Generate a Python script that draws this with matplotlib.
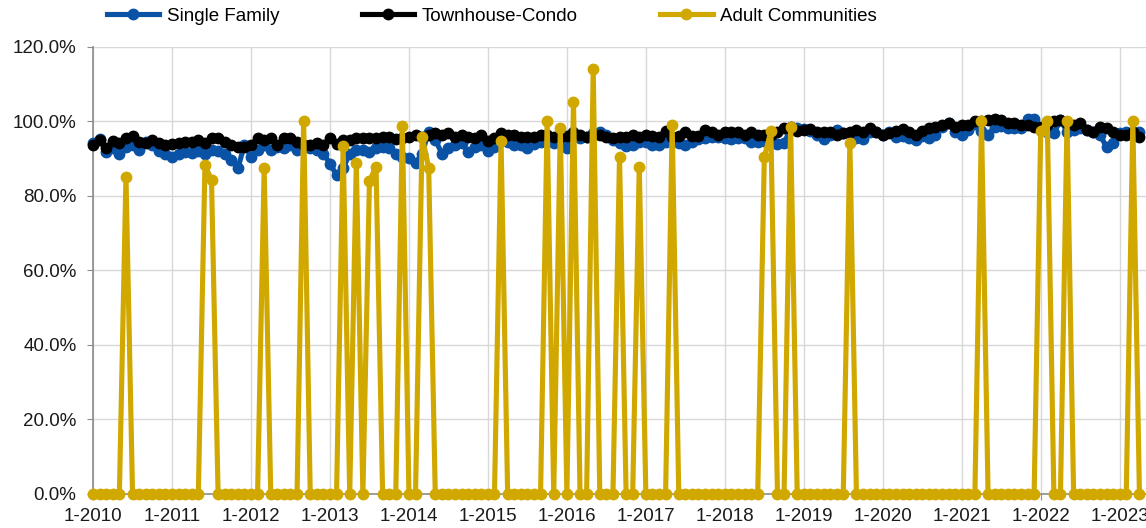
import matplotlib
matplotlib.use("Agg")
import matplotlib.pyplot as plt
import numpy as np

plt.rcParams['font.family'] = ['Liberation Sans', 'DejaVu Sans']

# monthly close-to-list ratios (%), Jan 2010 .. Apr 2023
single_family = [
    94.1, 95.3, 91.9, 92.8, 91.4, 93.2, 93.7, 92.3, 94.6, 93.7, 92.1, 91.2,
    90.6, 91.2, 91.9, 91.5, 92.1, 91.2, 92.3, 92.1, 91.2, 89.7, 87.4, 93.7,
    90.6, 92.3, 93.7, 92.3, 93.2, 92.8, 93.7, 92.3, 93.2, 92.8, 92.3, 91.4,
    88.7, 85.6, 87.4, 91.4, 92.3, 92.3, 91.9, 92.8, 93.2, 92.8, 91.4, 90.6,
    90.3, 88.8, 91.4, 97.3, 95.1, 91.4, 92.8, 93.7, 94.1, 91.9, 93.2, 93.7,
    92.1, 93.2, 95.5, 94.6, 93.7, 93.7, 92.8, 93.9, 94.6, 95.1, 94.1, 94.6,
    92.8, 97.3, 95.5, 95.9, 96.8, 97.3, 96.4, 95.1, 94.1, 93.5, 93.7, 94.4,
    94.6, 93.7, 93.7, 94.6, 95.1, 94.1, 93.7, 94.6, 95.3, 95.7, 95.9, 95.9,
    95.7, 95.3, 95.7, 95.5, 94.4, 94.4, 94.8, 95.1, 93.9, 94.1, 98.2, 98.2,
    98.0, 97.4, 96.4, 95.3, 96.4, 97.7, 96.8, 96.8, 95.7, 95.3, 97.3, 97.3,
    96.4, 97.1, 95.9, 96.2, 95.5, 95.1, 96.2, 95.7, 96.5, 98.6, 99.5, 97.3,
    96.5, 97.7, 99.3, 97.5, 96.5, 98.6, 98.9, 98.2, 98.2, 98.2, 100.6, 100.8,
    98.2, 97.3, 96.8, 100.4, 97.3, 97.7, 98.2, 97.7, 97.3, 96.4, 93.2, 94.1,
    96.8, 97.3, 96.8, 97.3,
]

townhouse_condo = [
    93.7, 95.1, 93.0, 94.7, 94.1, 95.6, 96.2, 94.6, 94.1, 95.1, 94.1, 93.7,
    93.9, 94.1, 94.6, 94.6, 95.1, 94.1, 95.5, 95.5, 94.6, 93.7, 93.2, 93.2,
    93.7, 95.5, 95.1, 95.5, 93.7, 95.5, 95.5, 94.6, 93.7, 93.7, 94.1, 93.7,
    95.6, 93.9, 95.1, 95.1, 95.5, 95.7, 95.7, 95.5, 95.9, 95.9, 95.2, 95.5,
    95.9, 96.4, 95.9, 96.4, 96.8, 96.4, 96.8, 95.9, 96.4, 95.9, 95.5, 96.4,
    94.8, 95.5, 96.8, 96.4, 96.4, 95.9, 95.9, 95.9, 96.4, 96.4, 95.9, 95.9,
    96.2, 96.8, 96.4, 95.9, 96.4, 96.4, 95.9, 95.7, 95.9, 95.9, 96.4, 95.9,
    96.4, 96.2, 95.9, 97.5, 95.9, 96.2, 97.1, 96.2, 96.2, 97.7, 97.1, 96.4,
    97.1, 97.1, 97.1, 96.5, 97.1, 96.5, 96.5, 96.5, 97.1, 98.2, 98.4, 97.5,
    97.7, 98.0, 97.3, 97.1, 97.1, 96.5, 96.8, 97.3, 97.7, 97.3, 98.2, 97.3,
    96.4, 96.8, 97.5, 98.0, 97.1, 96.5, 97.5, 98.2, 98.6, 99.1, 99.5, 98.6,
    99.1, 99.1, 100.0, 100.0, 100.4, 100.8, 100.3, 99.5, 99.5, 99.1, 99.1, 98.6,
    98.6, 99.1, 100.0, 100.4, 99.5, 99.1, 99.5, 97.7, 97.3, 98.6, 98.2, 97.3,
    96.4, 96.4, 97.3, 95.9,
]

# adult communities: zero in most months, a few spikes
adult_spikes = {
    5: 85.2, 17: 88.3, 18: 84.3, 26: 87.6, 32: 100.2, 38: 93.5, 40: 88.8,
    42: 84.0, 43: 87.9, 47: 98.9, 50: 95.9, 51: 87.6, 62: 94.8, 69: 100.2,
    71: 98.2, 73: 105.3, 76: 114.1, 80: 90.6, 83: 87.9, 88: 99.1, 102: 90.4,
    103: 97.4, 106: 98.6, 115: 94.3, 135: 100.2, 144: 97.4, 145: 100.2,
    148: 100.2, 158: 100.2,
}
n_months = len(single_family)
adult_communities = [adult_spikes.get(i, 0.0) for i in range(n_months)]

years = list(range(2010, 2024))
tick_labels = ['1-%d' % y for y in years]

fig = plt.figure(figsize=(11.46, 5.28), dpi=100)
ax = fig.add_axes([0.0812, 0.0644, 0.9188, 0.8466])

x = np.arange(n_months)
style = dict(lw=3.7, marker='o', ms=7.5, clip_on=False, solid_joinstyle='round')
ax.plot(x, single_family, color='#0a52a5', label='Single Family', zorder=3, **style)
ax.plot(x, townhouse_condo, color='#000000', label='Townhouse-Condo', zorder=4, **style)
ax.plot(x, adult_communities, color='#d1a800', label='Adult Communities', zorder=5, **style)

ax.set_xlim(0, 160)
ax.set_ylim(0, 120)
ax.set_xticks([12 * i for i in range(len(years))])
ax.set_xticklabels(tick_labels)
ax.set_yticks(np.arange(0, 121, 20))
ax.set_yticklabels(['%.1f%%' % v for v in np.arange(0, 121, 20)])

ax.grid(True, color='#d8d8d8', lw=1)
ax.set_axisbelow(True)
for side in ['top', 'right']:
    ax.spines[side].set_visible(False)
for side in ['left', 'bottom']:
    ax.spines[side].set_color('#8c8c8c')
    ax.spines[side].set_linewidth(1.2)
ax.tick_params(axis='both', colors='#8c8c8c', labelcolor='#1a1a1a', labelsize=13.5, length=4)
ax.tick_params(axis='x', pad=6)
ax.tick_params(axis='y', pad=8)

fig.legend(loc='center left', bbox_to_anchor=(0.093, 0.969), ncol=3, frameon=False,
           fontsize=13.5, handlelength=2.8, handletextpad=0.4, columnspacing=4.4,
           borderaxespad=0, borderpad=0)

fig.savefig('out.png', dpi=100)
